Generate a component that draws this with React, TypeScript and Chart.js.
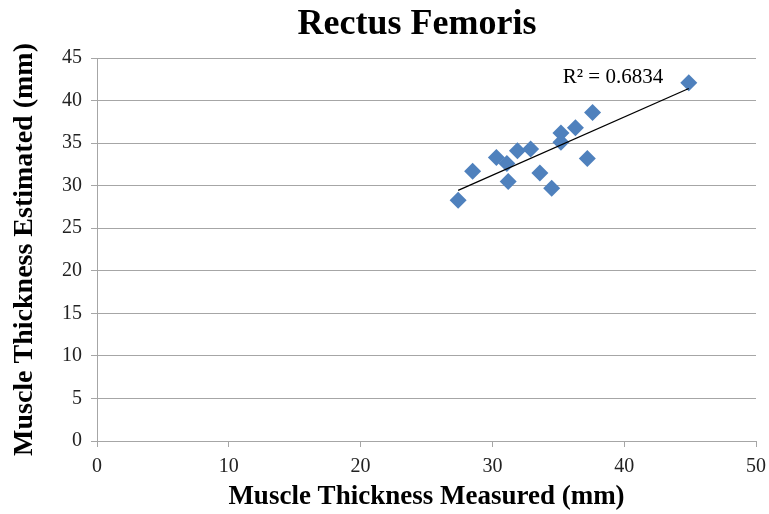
import React, { useEffect, useRef } from "react";
import { Chart, registerables } from "chart.js";

Chart.register(...registerables);

const measured = [27.4, 28.5, 30.3, 31.1, 31.2, 31.9, 32.9, 33.6, 34.5, 35.2, 35.2, 36.3, 37.2, 37.6, 44.9];
const estimated = [28.3, 31.7, 33.3, 32.6, 30.5, 34.1, 34.3, 31.5, 29.7, 36.2, 35.1, 36.8, 33.2, 38.6, 42.1];
const xTicks = [0, 10, 20, 30, 40, 50];
const yTicks = [0, 5, 10, 15, 20, 25, 30, 35, 40, 45];
const titleText = "Rectus Femoris";
const xTitle = "Muscle Thickness Measured (mm)";
const yTitle = "Muscle Thickness Estimated (mm)";
const r2Label = "R² = 0.6834";

function regression(xs: number[], ys: number[]) {
  const n = xs.length;
  const mx = xs.reduce((a, b) => a + b, 0) / n;
  const my = ys.reduce((a, b) => a + b, 0) / n;
  let sxy = 0, sxx = 0;
  for (let i = 0; i < n; i++) {
    sxy += (xs[i] - mx) * (ys[i] - my);
    sxx += (xs[i] - mx) * (xs[i] - mx);
  }
  const slope = sxy / sxx;
  return { slope, intercept: my - slope * mx };
}

const SERIF = "'Liberation Serif', 'Times New Roman', serif";

export default function App() {
  const ref = useRef<HTMLCanvasElement | null>(null);
  useEffect(() => {
    document.body.style.margin = "0";
    const { slope, intercept } = regression(measured, estimated);
    const xmin = Math.min(...measured);
    const xmax = Math.max(...measured);
    const trend = [
      { x: xmin, y: slope * xmin + intercept },
      { x: xmax, y: slope * xmax + intercept },
    ];
    const textPlugin = {
      id: "texts",
      afterDraw(chart: any) {
        const ctx = chart.ctx;
        ctx.save();
        ctx.fillStyle = "#000";
        ctx.textAlign = "center";
        ctx.textBaseline = "middle";
        ctx.font = `bold 36px ${SERIF}`;
        ctx.fillText(titleText, 417, 25);
        ctx.font = `21px ${SERIF}`;
        ctx.fillText(r2Label, 613, 77);
        ctx.restore();
      },
    };
    const chart = new Chart(ref.current!, {
      type: "scatter",
      data: {
        datasets: [
          {
            data: measured.map((x, i) => ({ x, y: estimated[i] })),
            backgroundColor: "#4F81BD",
            borderColor: "#4F81BD",
            pointStyle: "rectRot",
            pointRadius: 8.5,
            pointHoverRadius: 8.5,
            borderWidth: 0,
            order: 2,
          },
          {
            type: "line",
            data: trend,
            borderColor: "#000",
            borderWidth: 1.3,
            pointRadius: 0,
            showLine: true,
            fill: false,
            order: 1,
          } as any,
        ],
      },
      plugins: [textPlugin],
      options: {
        animation: false,
        responsive: false,
        layout: { padding: { top: 58, right: 13, left: 0, bottom: 0 } },
        plugins: { legend: { display: false }, tooltip: { enabled: false }, title: { display: false } },
        scales: {
          x: {
            type: "linear",
            min: 0,
            max: 50,
            afterBuildTicks: (s: any) => { s.ticks = xTicks.map((v) => ({ value: v })); },
            afterFit: (s: any) => { s.height = 73; s.paddingRight = 0; s.paddingLeft = 0; },
            grid: { display: true, drawOnChartArea: false, drawTicks: true, tickLength: 6, color: "#A6A6A6" },
            border: { display: true, color: "#A6A6A6", width: 1 },
            ticks: { font: { family: SERIF, size: 20 }, color: "#222", padding: 8, maxRotation: 0 },
            title: { display: true, text: xTitle, font: { family: SERIF, size: 27, weight: "bold" }, color: "#000", padding: { top: 0, bottom: 1 } },
          },
          y: {
            type: "linear",
            min: 0,
            max: 45,
            afterBuildTicks: (s: any) => { s.ticks = yTicks.map((v) => ({ value: v })); },
            afterFit: (s: any) => { s.width = 97; },
            grid: { display: true, drawTicks: true, tickLength: 6, color: "#A6A6A6" },
            border: { display: true, color: "#A6A6A6", width: 1 },
            ticks: { font: { family: SERIF, size: 20 }, color: "#222", padding: 9 },
            title: { display: true, text: yTitle, font: { family: SERIF, size: 28, weight: "bold" }, color: "#000", padding: { top: 8, bottom: 0 } },
          },
        },
      } as any,
    });
    return () => chart.destroy();
  }, []);
  return (
    <div style={{ width: 769, height: 514 }}>
      <canvas ref={ref} width={769} height={514} style={{ width: 769, height: 514, display: "block" }} />
    </div>
  );
}
